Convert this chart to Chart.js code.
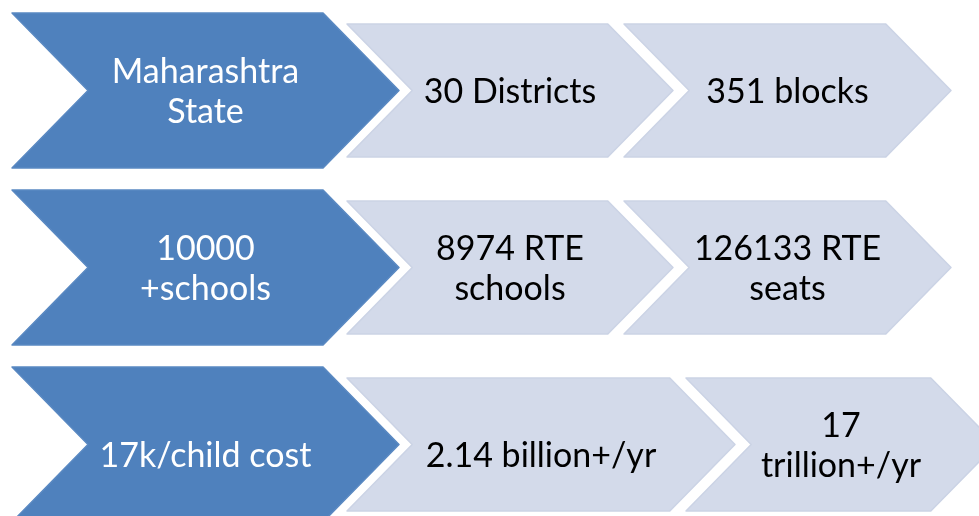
<!DOCTYPE html>
<html>
<head>
<meta charset="utf-8">
<script src="https://cdn.jsdelivr.net/npm/chart.js@4.4.1/dist/chart.umd.min.js"></script>
<style>
html,body{margin:0;padding:0;background:#ffffff;overflow:hidden;width:979px;height:516px}
#wrap{position:absolute;left:0;top:0;width:979px;height:535px}
</style>
</head>
<body>
<div id="wrap"><canvas id="c"></canvas></div>
<script>
// ---- data ----
const rows = ['State level', 'Schools', 'Cost'];
const stage1Text = [['Maharashtra', 'State'], ['10000', '+schools'], ['17k/child cost']];
const stage2Text = [['30 Districts'], ['8974 RTE', 'schools'], ['2.14 billion+/yr']];
const stage3Text = [['351 blocks'], ['126133 RTE', 'seats'], ['17', 'trillion+/yr']];
// extent of each step along the flow axis (axis units)
const stage1Span = [[12, 399], [12, 399], [12, 399]];
const stage2Span = [[347, 673], [347, 673], [347, 735]];
const stage3Span = [[624, 951], [624, 951], [686, 996]];

const DARK = '#4F81BD';
const LIGHT = '#D3DAEA';

const chevronPlugin = {
  id: 'chevrons',
  afterDatasetsDraw(chart, args, opts) {
    const ctx = chart.ctx;
    const ds = chart.data.datasets;
    for (let di = ds.length - 1; di >= 0; di--) {
      const meta = chart.getDatasetMeta(di);
      const d = ds[di];
      meta.data.forEach((el, i) => {
        const p = el.getProps(['x', 'y', 'base', 'height'], true);
        const x0 = Math.min(p.x, p.base), x1 = Math.max(p.x, p.base);
        const h = p.height, top = p.y - h / 2, bot = p.y + h / 2;
        const k = h * opts.pointRatio;
        ctx.save();
        ctx.beginPath();
        ctx.moveTo(x0, top);
        ctx.lineTo(x1 - k, top);
        ctx.lineTo(x1, p.y);
        ctx.lineTo(x1 - k, bot);
        ctx.lineTo(x0, bot);
        ctx.lineTo(x0 + k, p.y);
        ctx.closePath();
        ctx.fillStyle = d.shapeFill;
        ctx.fill();
        ctx.lineJoin = 'round';
        ctx.lineWidth = 1.5;
        ctx.strokeStyle = d.shapeEdge;
        ctx.stroke();
        // label text
        const lines = d.stepText[i];
        const fs = opts.fontSize;
        ctx.font = fs + 'px ' + opts.fontFamily;
        ctx.fillStyle = d.textColor;
        ctx.textAlign = 'center';
        ctx.textBaseline = 'alphabetic';
        const cap = opts.capRatio * fs;
        const lh = opts.lineHeight;
        const blockH = (lines.length - 1) * lh + cap;
        const shift = lines.length === 1 ? opts.singleShift[i] : 0;
        const cx = (x0 + x1) / 2;
        const baseY = p.y - blockH / 2 + cap + shift;
        lines.forEach((t, j) => ctx.fillText(t, cx, baseY + j * lh));
        ctx.restore();
      });
    }
  }
};

function build() {
  new Chart(document.getElementById('c'), {
    type: 'bar',
    data: {
      labels: rows,
      datasets: [
        { label: 'Step 1', data: stage1Span, stepText: stage1Text, shapeFill: DARK, shapeEdge: '#5A89C2', textColor: '#FFFFFF',
          backgroundColor: 'rgba(0,0,0,0)', barPercentage: 155 / 177, categoryPercentage: 1, grouped: false },
        { label: 'Step 2', data: stage2Span, stepText: stage2Text, shapeFill: LIGHT, shapeEdge: '#CBD3E5', textColor: '#000000',
          backgroundColor: 'rgba(0,0,0,0)', barPercentage: 133 / 177, categoryPercentage: 1, grouped: false },
        { label: 'Step 3', data: stage3Span, stepText: stage3Text, shapeFill: LIGHT, shapeEdge: '#CBD3E5', textColor: '#000000',
          backgroundColor: 'rgba(0,0,0,0)', barPercentage: 133 / 177, categoryPercentage: 1, grouped: false }
      ]
    },
    options: {
      indexAxis: 'y',
      responsive: true,
      maintainAspectRatio: false,
      animation: false,
      events: [],
      layout: { padding: { top: 2, bottom: 2, left: 0, right: 0 } },
      scales: {
        x: { type: 'linear', min: 0, max: 979, display: false },
        y: { type: 'category', display: false, offset: true }
      },
      plugins: {
        legend: { display: false },
        tooltip: { enabled: false },
        chevrons: { pointRatio: 0.49, fontSize: 34, fontFamily: 'Lato, "Open Sans", sans-serif', capRatio: 0.72, lineHeight: 40, singleShift: [0, 0, 10] }
      }
    },
    plugins: [chevronPlugin]
  });
}

if (document.fonts && document.fonts.load) {
  document.fonts.load('34px Lato').then(build, build);
} else {
  build();
}
</script>
</body>
</html>
